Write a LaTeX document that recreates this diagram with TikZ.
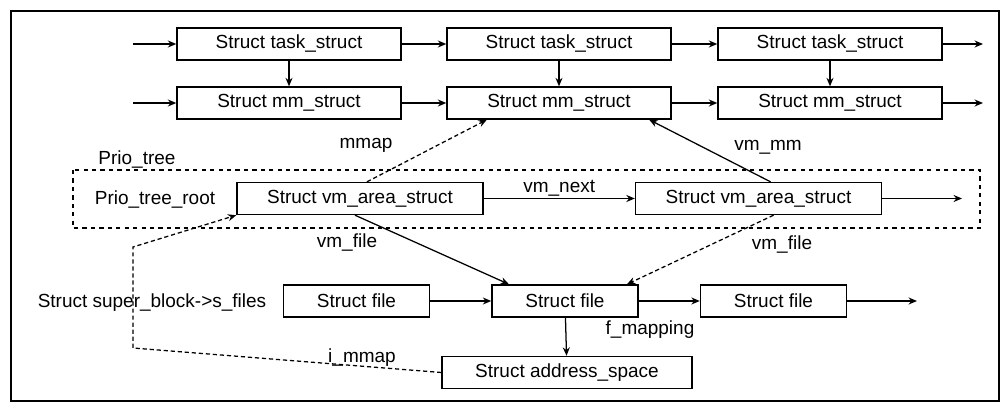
\documentclass[tikz,border=0pt]{standalone}
\usepackage{fontspec}
\setmainfont{Liberation Sans}
\usetikzlibrary{arrows.meta, positioning, calc}

\begin{document}
\begin{tikzpicture}[
    x=0.025cm, y=-0.025cm,
    every node/.style={font=\fontsize{13.5}{15}\selectfont},
    sbox/.style={rectangle, draw, line width=1pt, minimum height=0.8cm, inner sep=2pt},
    taskbox/.style={sbox, minimum width=5.6cm},
    vmbox/.style={sbox, minimum width=6.15cm},
    filebox/.style={sbox, minimum width=3.65cm},
    addrbox/.style={sbox, minimum width=6.25cm},
    lnk/.style={-{Stealth[length=6pt,width=5pt]}, line width=0.9pt},
    dlnk/.style={lnk, densely dashed},
    treebox/.style={draw, dashed, line width=0.9pt},
    lbl/.style={inner sep=1pt}
]
\useasboundingbox (0,0) rectangle (1002,407);
% outer frame
\draw[line width=1.4pt] (11,11) rectangle (999,401);

% task_struct row
\node[taskbox] (t1) at (289,44) {Struct task\_struct};
\node[taskbox] (t2) at (559,44) {Struct task\_struct};
\node[taskbox] (t3) at (830,44) {Struct task\_struct};

% mm_struct row
\node[taskbox] (m1) at (289,103) {Struct mm\_struct};
\node[taskbox] (m2) at (559,103) {Struct mm\_struct};
\node[taskbox] (m3) at (830,103) {Struct mm\_struct};

% prio tree
\draw[treebox] (73,170) rectangle (980,228);
\node[lbl] (pt) at (137,160) {Prio\_tree};
\node[lbl] (ptr) at (155,200) {Prio\_tree\_root};
\node[vmbox] (v1) at (360,198.5) {Struct vm\_area\_struct};
\node[vmbox] (v2) at (758.5,198.5) {Struct vm\_area\_struct};

% files
\node[lbl] (sb) at (152,303) {Struct super\_block->s\_files};
\node[filebox] (f1) at (356.5,301) {Struct file};
\node[filebox] (f2) at (565,301) {Struct file};
\node[filebox] (f3) at (773.5,301) {Struct file};
\node[addrbox] (as) at (567,372.5) {Struct address\_space};

% free ends
\coordinate (tin) at (133,44);
\coordinate (min) at (133,103);
\coordinate (tout) at (983,44);
\coordinate (mout) at (983,103);
\coordinate (vout) at (962,198.5);
\coordinate (fout) at (917,301);
\coordinate (ia) at (133,348);
\coordinate (ib) at (133,247);

% list links
\draw[lnk] (tin) -- (t1);
\draw[lnk] (t1) -- (t2);
\draw[lnk] (t2) -- (t3);
\draw[lnk] (t3) -- (tout);
\draw[lnk] (min) -- (m1);
\draw[lnk] (m1) -- (m2);
\draw[lnk] (m2) -- (m3);
\draw[lnk] (m3) -- (mout);
\draw[lnk] (t1) -- (m1);
\draw[lnk] (t2) -- (m2);
\draw[lnk] (t3) -- (m3);

% vm areas
\draw[lnk] (v1) -- (v2) node[midway, above, lbl] {vm\_next};
\draw[lnk] (v2) -- (vout);
\draw[dlnk] ($(v1.north)+(7,0)$) -- ($(m2.south west)!0.18!(m2.south east)$);
\node[lbl] (mm) at (366,145) {mmap};
\draw[lnk] ($(v2.north)+(12,0)$) -- ($(m2.south west)!0.9!(m2.south east)$);
\node[lbl] (vmm) at (768,147) {vm\_mm};
\draw[lnk] ($(v1.south)+(-5,0)$) -- ($(f2.north west)!0.12!(f2.north east)$);
\node[lbl] (vf1) at (347,243) {vm\_file};
\draw[dlnk] ($(v2.south)+(15,0)$) -- ($(f2.north west)!0.92!(f2.north east)$);
\node[lbl] (vf2) at (782,245) {vm\_file};

% file links
\draw[lnk] (f1) -- (f2);
\draw[lnk] (f2) -- (f3);
\draw[lnk] (f3) -- (fout);
\draw[lnk] (f2) -- (as);
\node[lbl] (fm) at (650,330) {f\_mapping};
\draw[dlnk] (as.west) -- (ia) -- (ib) -- (v1.south west);
\node[lbl] (im) at (362,358) {i\_mmap};
\end{tikzpicture}
\end{document}
